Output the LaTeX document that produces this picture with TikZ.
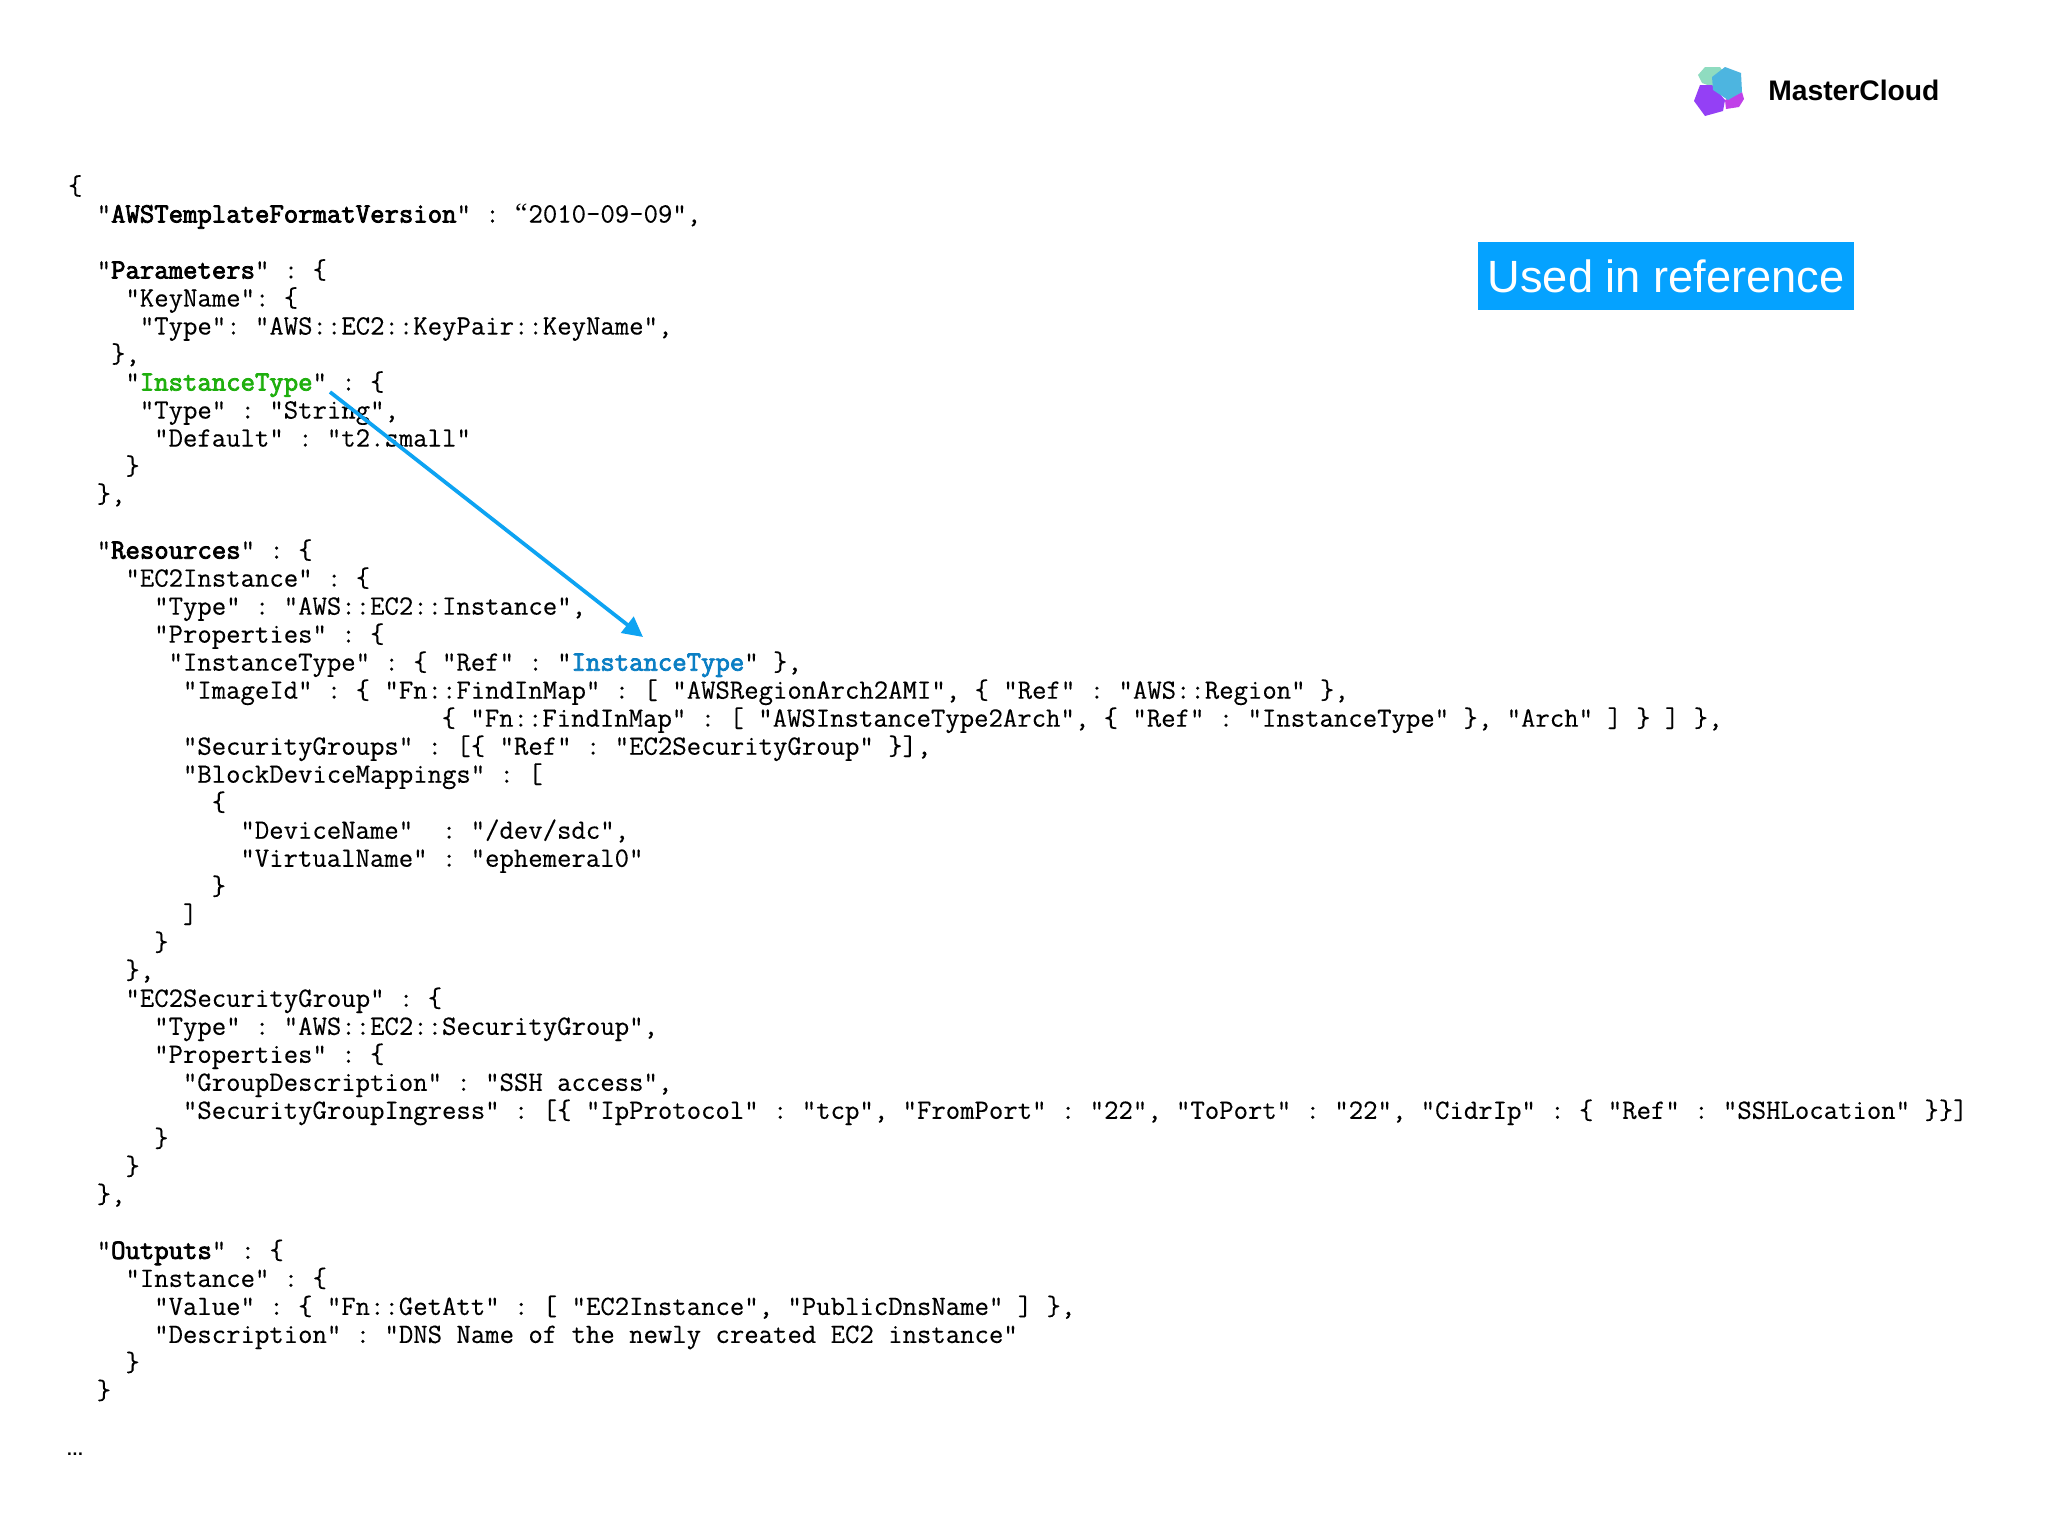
\documentclass[tikz,border=0pt]{standalone}
\usepackage{fontspec}
\setmainfont{Liberation Sans}
\setmonofont[FakeBold=0.25,BoldFont={Latin Modern Mono},BoldFeatures={FakeBold=2.8}]{Latin Modern Mono}
\newfontfamily\quotefont{Liberation Serif}
\usetikzlibrary{arrows.meta}
\definecolor{arrowblue}{HTML}{0DA3F2}
\definecolor{tagblue}{HTML}{05A2FF}
\definecolor{defgreen}{HTML}{1FAF0E}
\definecolor{refblue}{HTML}{0B7FC4}
\definecolor{cubegreen}{HTML}{8FDCC0}
\definecolor{cubepurple}{HTML}{9440F5}
\definecolor{cubemagenta}{HTML}{C040E8}
\definecolor{cubeblue}{HTML}{4DB5E0}
\tikzset{
  x=0.75pt,y=-0.75pt,
  codeline/.style={anchor=base west,inner sep=0pt,outer sep=0pt,font=\ttfamily\fontsize{20.96pt}{24pt}\selectfont},
  tag/.style={fill=tagblue,text=white,inner sep=0pt,minimum width=282pt,minimum height=51pt},
  brand/.style={anchor=base west,inner sep=0pt,font=\fontsize{21.2pt}{24pt}\selectfont\bfseries},
  refarrow/.style={draw=arrowblue,line width=2.8pt,-{Triangle[length=15pt,width=15pt]}}
}
\newcommand\cl[3]{\node[codeline] (l#1) at ({68+#2*14.37},{194.5+#1*28.01}) {#3};}
\newcommand\lb{\{}
\newcommand\rb{\}}
\newcommand\openq{\makebox[10.78pt][c]{\quotefont “}}
\begin{document}
\begin{tikzpicture}
\useasboundingbox (0,0) rectangle (2048,1536);
\fill[white] (0,0) rectangle (2048,1536);
% logo
\fill[cubegreen] (1698,75) -- (1705,67) -- (1720,67) -- (1727,77) -- (1713,87) -- (1702,83) -- cycle;
\fill[cubepurple] (1700,85) -- (1712,85) -- (1725,100) -- (1723,111) -- (1705,116) -- (1694,101) -- cycle;
\fill[cubemagenta] (1725,100) -- (1742,92) -- (1744,99) -- (1739,107) -- (1726,109) -- cycle;
\fill[cubeblue] (1712,77) -- (1725,67) -- (1741,73) -- (1742,92) -- (1728,100) -- (1713,90) -- cycle;
\node[brand] (brand) at (1768,100) {MasterCloud};
\node[tag] (tag) at (1666,276) {};
\node[anchor=base,inner sep=0pt,text=white,font=\fontsize{33.9pt}{36pt}\selectfont] (taglabel) at (1666,292) {Used in reference};
% code
\cl{0}{0}{\lb}
\cl{1}{2}{"\textbf{AWSTemplateFormatVersion}" : \openq 2010-09-09",}
\cl{3}{2}{"\textbf{Parameters}" : \lb}
\cl{4}{4}{"KeyName": \lb}
\cl{5}{5}{"Type": "AWS::EC2::KeyPair::KeyName",}
\cl{6}{3}{\rb,}
\cl{7}{4}{"\textcolor{defgreen}{\textbf{InstanceType}}" : \lb}
\cl{8}{5}{"Type" : "String",}
\cl{9}{6}{"Default" : "t2.small"}
\cl{10}{4}{\rb}
\cl{11}{2}{\rb,}
\cl{13}{2}{"\textbf{Resources}" : \lb}
\cl{14}{4}{"EC2Instance" : \lb}
\cl{15}{6}{"Type" : "AWS::EC2::Instance",}
\cl{16}{6}{"Properties" : \lb}
\cl{17}{7}{"InstanceType" : \lb{} "Ref" : "\textcolor{refblue}{\textbf{InstanceType}}" \rb,}
\cl{18}{8}{"ImageId" : \lb{} "Fn::FindInMap" : [ "AWSRegionArch2AMI", \lb{} "Ref" : "AWS::Region" \rb,}
\cl{19}{26}{\lb{} "Fn::FindInMap" : [ "AWSInstanceType2Arch", \lb{} "Ref" : "InstanceType" \rb, "Arch" ] \rb{} ] \rb,}
\cl{20}{8}{"SecurityGroups" : [\lb{} "Ref" : "EC2SecurityGroup" \rb],}
\cl{21}{8}{"BlockDeviceMappings" : [}
\cl{22}{10}{\lb}
\cl{23}{12}{"DeviceName"\ \ : "/dev/sdc",}
\cl{24}{12}{"VirtualName" : "ephemeral0"}
\cl{25}{10}{\rb}
\cl{26}{8}{]}
\cl{27}{6}{\rb}
\cl{28}{4}{\rb,}
\cl{29}{4}{"EC2SecurityGroup" : \lb}
\cl{30}{6}{"Type" : "AWS::EC2::SecurityGroup",}
\cl{31}{6}{"Properties" : \lb}
\cl{32}{8}{"GroupDescription" : "SSH access",}
\cl{33}{8}{"SecurityGroupIngress" : [\lb{} "IpProtocol" : "tcp", "FromPort" : "22", "ToPort" : "22", "CidrIp" : \lb{} "Ref" : "SSHLocation" \rb\rb]}
\cl{34}{6}{\rb}
\cl{35}{4}{\rb}
\cl{36}{2}{\rb,}
\cl{38}{2}{"\textbf{Outputs}" : \lb}
\cl{39}{4}{"Instance" : \lb}
\cl{40}{6}{"Value" : \lb{} "Fn::GetAtt" : [ "EC2Instance", "PublicDnsName" ] \rb,}
\cl{41}{6}{"Description" : "DNS Name of the newly created EC2 instance"}
\cl{42}{4}{\rb}
\cl{43}{2}{\rb}
\node[anchor=base west,inner sep=0pt,font=\fontsize{13pt}{16pt}\selectfont\bfseries] (dots) at (66,1455) {…};
% arrow
\coordinate (from) at (330,392);
\coordinate (to) at (643,637);
\draw[refarrow] (from) -- (to);
\end{tikzpicture}
\end{document}
